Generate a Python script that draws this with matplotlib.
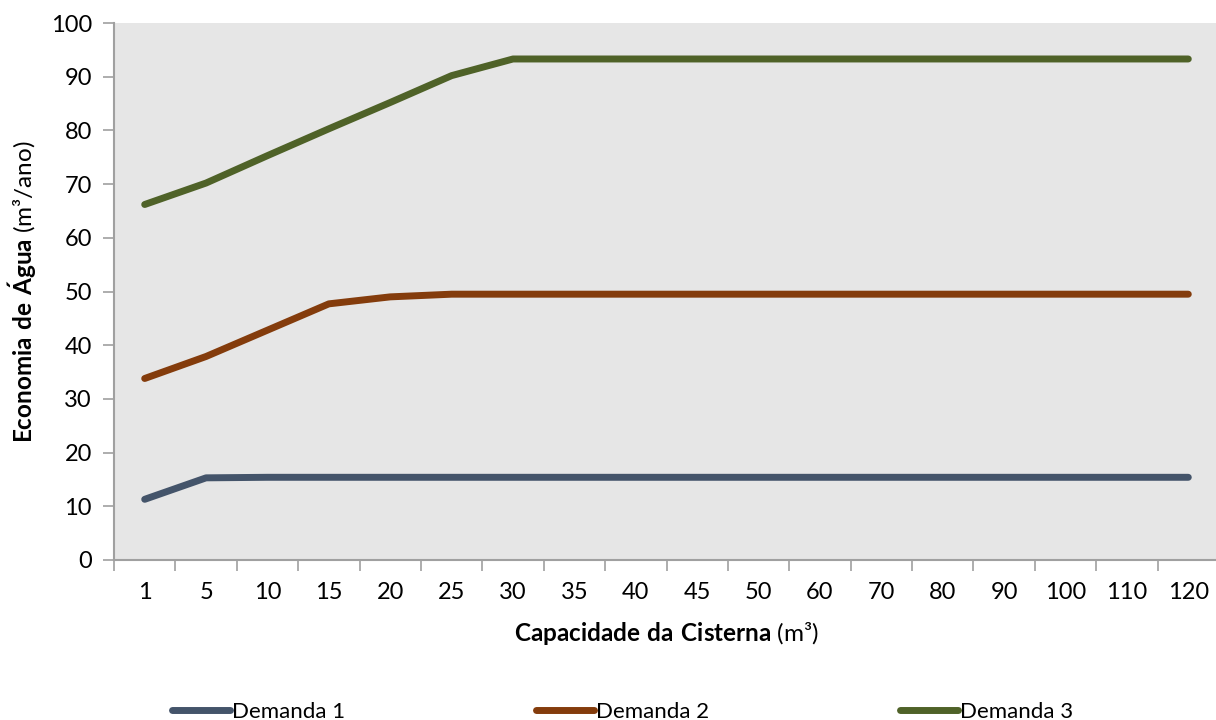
import numpy as np
import matplotlib.pyplot as plt

plt.rcParams['font.family'] = ['Lato', 'DejaVu Sans']
plt.rcParams['mathtext.fontset'] = 'custom'
plt.rcParams['mathtext.rm'] = 'Lato'
plt.rcParams['mathtext.bf'] = 'Lato:bold'

capacidades = ['1', '5', '10', '15', '20', '25', '30', '35', '40', '45',
               '50', '60', '70', '80', '90', '100', '110', '120']
demanda1 = [11.3, 15.3, 15.4, 15.4, 15.4, 15.4, 15.4, 15.4, 15.4, 15.4,
            15.4, 15.4, 15.4, 15.4, 15.4, 15.4, 15.4, 15.4]
demanda2 = [33.8, 37.9, 42.8, 47.7, 49.0, 49.5, 49.5, 49.5, 49.5, 49.5,
            49.5, 49.5, 49.5, 49.5, 49.5, 49.5, 49.5, 49.5]
demanda3 = [66.2, 70.2, 75.3, 80.3, 85.2, 90.2, 93.3, 93.3, 93.3, 93.3,
            93.3, 93.3, 93.3, 93.3, 93.3, 93.3, 93.3, 93.3]

series = [('Demanda 1', demanda1, '#44546A'),
          ('Demanda 2', demanda2, '#843C0C'),
          ('Demanda 3', demanda3, '#4F6228')]

fig = plt.figure(figsize=(12.16, 7.2), dpi=100)
ax = fig.add_axes([114 / 1216, 160 / 720, 1105 / 1216, 537 / 720])
ax.set_facecolor('#E6E6E6')

x = np.arange(len(capacidades))
for name, vals, col in series:
    ax.plot(x, vals, color=col, lw=5, solid_capstyle='round',
            solid_joinstyle='round', label=name)

ax.set_xlim(-0.5, len(capacidades) - 0.5)
ax.set_ylim(0, 100)
ax.set_yticks(np.arange(0, 101, 10))
ax.set_xticks(np.arange(-0.5, len(capacidades), 1))
ax.set_xticklabels([])
ax.set_xticks(x, minor=True)
ax.set_xticklabels(capacidades, minor=True)
ax.tick_params(axis='x', which='minor', length=0, pad=16, labelsize=17)
ax.tick_params(axis='x', which='major', length=8, color='#A0A0A0', width=1.2)
ax.tick_params(axis='y', length=8, color='#A0A0A0', width=1.2, labelsize=17, pad=8)

for s in ['top', 'right']:
    ax.spines[s].set_visible(False)
for s in ['left', 'bottom']:
    ax.spines[s].set_color('#A0A0A0')
    ax.spines[s].set_linewidth(1.5)

ax.set_xlabel(r'$\bf{Capacidade\ da\ Cisterna}$ (m³)', fontsize=17.5, labelpad=12)
ax.set_ylabel(r'$\bf{Economia\ de\ \acute{A}gua}$ (m³/ano)', fontsize=17.5, labelpad=8)

fig.legend(loc='lower center', bbox_to_anchor=(0.512, -0.03), ncol=3, frameon=False,
           fontsize=16, handlelength=2.6, handletextpad=0.1, columnspacing=8.6)

fig.savefig('out.png', dpi=100)
